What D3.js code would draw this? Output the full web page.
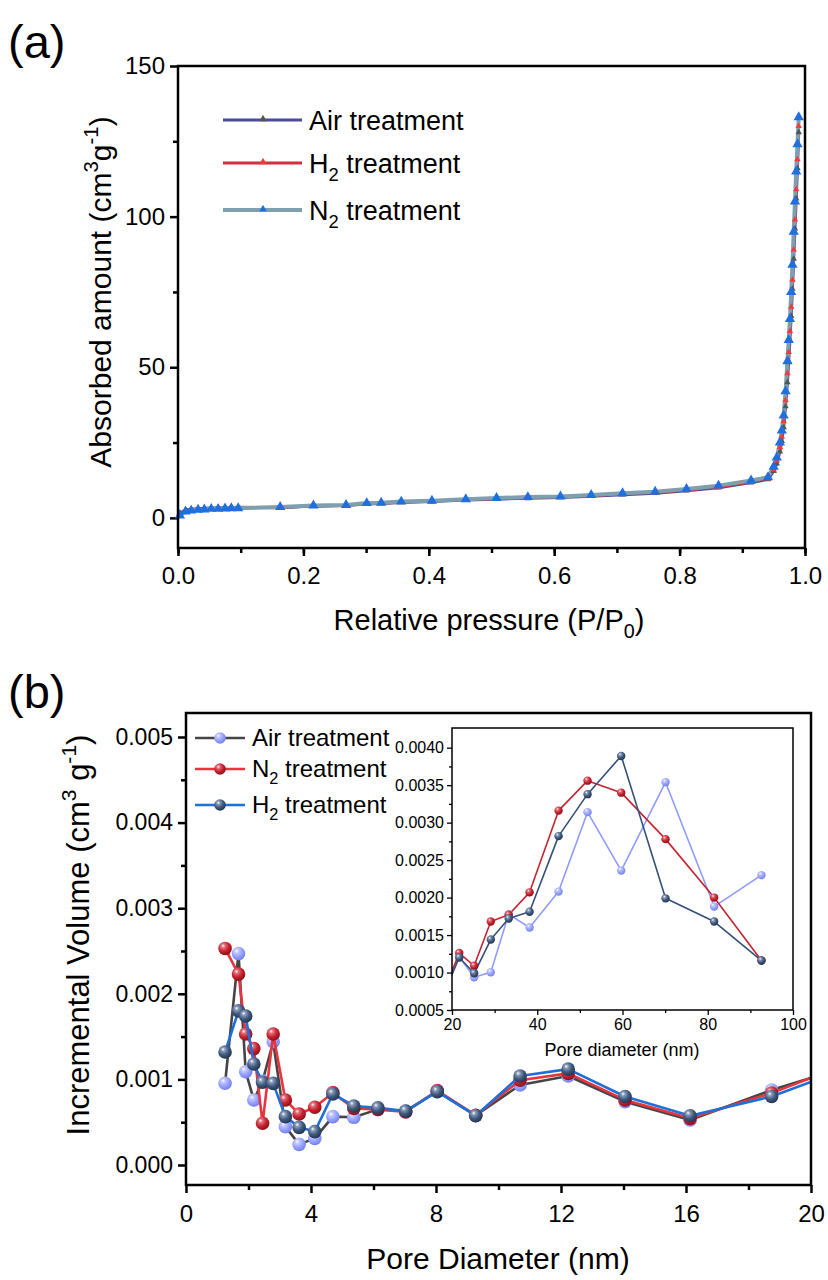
<!DOCTYPE html>
<html><head><meta charset="utf-8">
<script src="https://cdn.jsdelivr.net/npm/d3@7/dist/d3.min.js"></script>
<style>body{margin:0;background:#fff} svg{display:block} text{font-family:"Liberation Sans",Arial,sans-serif;fill:#000}</style>
</head><body>
<svg id="c" width="828" height="1280"></svg>
<script>
// ---------- Panel (a) data : N2 isotherms ----------
const pressure = [0.003,0.012,0.021,0.032,0.042,0.053,0.064,0.075,0.085,0.096,
  0.163,0.216,0.268,0.301,0.324,0.356,0.405,0.459,0.508,0.558,0.610,0.659,0.709,0.761,0.811,0.862,0.914,0.941,
  0.950,0.955,0.960,0.963,0.966,0.969,0.972,0.974,0.976,0.978,0.980,0.982,0.984,0.986,0.988,0.990];
const isoAir = [1.6,2.6,2.9,3.0,3.2,3.3,3.3,3.4,3.4,3.5,
  3.4,3.9,4.1,4.6,4.8,5.1,5.4,5.9,6.2,6.5,6.8,7.2,7.7,8.2,9.0,10.0,11.7,12.8,
  15.5,18,22,25.5,30,37,45,52,59,67,76,86,96,106,116,128];
const isoH2 = [1.4,2.5,2.8,3.0,3.1,3.2,3.3,3.3,3.4,3.4,
  3.4,3.9,4.1,4.7,4.8,5.2,5.5,6.0,6.3,6.6,6.9,7.3,7.9,8.4,9.2,10.2,11.9,13.0,
  16,19,23.5,27,32,39,48,55,62,70,79,89,99,109,119,130];
const isoN2 = [0.8,2.1,2.4,2.7,2.8,3.0,3.0,3.1,3.2,3.2,
  3.6,4.1,4.3,4.9,5.0,5.4,5.7,6.2,6.6,6.9,7.1,7.6,8.2,8.7,9.6,10.7,12.4,13.5,
  17,20,25,29,34,42,52,59,66,75,84,95,105,115,124,133];
const aXTicks = [0,0.2,0.4,0.6,0.8,1.0];
const aYTicks = [0,50,100,150];

// ---------- Panel (b) data : pore size distribution ----------
const diameter = [1.25,1.68,1.91,2.17,2.45,2.79,3.18,3.62,4.12,4.70,5.37,6.14,7.03,8.04,9.27,10.69,12.23,14.05,16.13,18.74,
  21.7,25.2,29.1,33.3,38.2,45.0,51.8,59.7,70.1,81.5,92.6];
const volAir = [0.000955,0.00247,0.00109,0.00076,0.00098,0.00144,0.000448,0.000241,0.000311,0.000565,0.000557,0.00065,0.00063,0.00086,0.00058,0.000935,0.00104,0.00074,0.000526,0.000876,
  0.00121,0.000936,0.001003,0.001777,0.0016,0.00208,0.00314,0.00236,0.00354,0.00188,0.0023];
const volN2 = [0.00253,0.00223,0.00153,0.00136,0.000487,0.00153,0.00076,0.000596,0.000674,0.000845,0.00066,0.00065,0.00062,0.00087,0.00058,0.00099,0.00107,0.00076,0.000545,0.00084,
  0.00126,0.00109,0.00168,0.00177,0.00207,0.00316,0.00356,0.0034,0.00278,0.002,0.00116];
const volH2 = [0.00132,0.0018,0.00174,0.00118,0.000966,0.000954,0.000565,0.00044,0.00039,0.00083,0.00069,0.000667,0.00063,0.000857,0.000576,0.00104,0.00112,0.0008,0.000576,0.0008,
  0.0012,0.00099,0.00144,0.00172,0.00181,0.00282,0.00338,0.00389,0.00199,0.00168,0.00116];
const bXTicks = [0,4,8,12,16,20];
const bYTicks = [0,0.001,0.002,0.003,0.004,0.005];
const insetXTicks = [20,40,60,80,100];
const insetYTicks = [0.0005,0.001,0.0015,0.002,0.0025,0.003,0.0035,0.004];

const svg = d3.select('#c');
const FONT = '"Liberation Sans",Arial,sans-serif';

function rich(t, parts, size){
  let cur = 0;
  parts.forEach(p=>{
    let target = p.sup ? -size*0.42 : p.sub ? size*0.28 : 0;
    const ts = t.append('tspan').text(p.t).attr('dy', target-cur);
    if (p.sup||p.sub) ts.attr('font-size', size*0.68);
    cur = target;
  });
}

function frame(g, x0,x1,y0,y1,w){
  g.append('rect').attr('x',x0).attr('y',y0).attr('width',x1-x0).attr('height',y1-y0)
    .attr('fill','none').attr('stroke','#000').attr('stroke-width',w);
}

// ================= PANEL (a) =================
const ax = d3.scaleLinear().domain([0,1]).range([178,805]);
const ay = d3.scaleLinear().domain([-10,150]).range([548,66]);
const ga = svg.append('g');
svg.append('text').attr('x',8).attr('y',58).attr('font-size',47).text('(a)');

const aXMinor = d3.range(0,1.01,0.1);
const aYMinor = [25,75,125];
ga.append('g').attr('transform','translate(0,548)')
  .call(d3.axisBottom(ax).tickValues(aXMinor).tickSize(5).tickFormat(''))
  .call(g=>g.select('.domain').remove()).selectAll('line').attr('stroke-width',2.5);
ga.append('g').attr('transform','translate(0,548)')
  .call(d3.axisBottom(ax).tickValues(aXTicks).tickSize(8).tickPadding(11).tickFormat(d3.format('.1f')))
  .call(g=>g.select('.domain').remove())
  .call(g=>g.selectAll('line').attr('stroke-width',2.5))
  .call(g=>g.selectAll('text').attr('font-size',24).attr('font-family',FONT).attr('fill','#000'));
ga.append('g').attr('transform','translate(178,0)')
  .call(d3.axisLeft(ay).tickValues(aYMinor).tickSize(5).tickFormat(''))
  .call(g=>g.select('.domain').remove()).selectAll('line').attr('stroke-width',2.5);
ga.append('g').attr('transform','translate(178,0)')
  .call(d3.axisLeft(ay).tickValues(aYTicks).tickSize(8).tickPadding(5))
  .call(g=>g.select('.domain').remove())
  .call(g=>g.selectAll('line').attr('stroke-width',2.5))
  .call(g=>g.selectAll('text').attr('font-size',24).attr('font-family',FONT).attr('fill','#000'));

const aSeries = [
  {vals: isoAir, line:'#4b4b9c', lw:3, mk:'#555555', ms:18},
  {vals: isoH2, line:'#d22f3b', lw:2.5, mk:'#f43a3a', ms:18},
  {vals: isoN2, line:'#7d9fb0', lw:4, mk:'#1f6fe0', ms:46}
];
const aLine = d3.line().x((d,i)=>ax(pressure[i])).y(d=>ay(d));
aSeries.forEach(s=>{
  ga.append('path').datum(s.vals).attr('d',aLine).attr('fill','none')
    .attr('stroke',s.line).attr('stroke-width',s.lw).attr('stroke-linejoin','round');
});
aSeries.forEach(s=>{
  ga.append('g').selectAll('path').data(s.vals).join('path')
    .attr('d', d3.symbol(d3.symbolTriangle, s.ms))
    .attr('transform',(d,i)=>`translate(${ax(pressure[i])},${ay(d)})`)
    .attr('fill', s.mk);
});
frame(ga,178,805,66,548,2.5);

// legend (a)
const aLeg = [
  {parts:[{t:'Air treatment'}], line:'#4b4b9c', lw:3, mk:'#555555'},
  {parts:[{t:'H'},{t:'2',sub:true},{t:' treatment'}], line:'#d22f3b', lw:3, mk:'#f43a3a'},
  {parts:[{t:'N'},{t:'2',sub:true},{t:' treatment'}], line:'#7d9fb0', lw:4, mk:'#1f6fe0'}
];
aLeg.forEach((l,i)=>{
  const y = [120,163,210][i];
  ga.append('line').attr('x1',223).attr('x2',302).attr('y1',y).attr('y2',y).attr('stroke',l.line).attr('stroke-width',l.lw);
  ga.append('path').attr('d',d3.symbol(d3.symbolTriangle,24)).attr('transform',`translate(263,${y-1})`).attr('fill',l.mk);
  const t = ga.append('text').attr('x',309).attr('y',y+10).attr('font-size',27);
  rich(t,l.parts,27);
});

// axis titles (a)
const at = svg.append('text').attr('transform','translate(111,292) rotate(-90)').attr('text-anchor','middle').attr('font-size',30);
rich(at,[{t:'Absorbed amount (cm'},{t:'3',sup:true},{t:'g'},{t:'-1',sup:true},{t:')'}],30);
const axt = svg.append('text').attr('x',489).attr('y',630).attr('text-anchor','middle').attr('font-size',29);
rich(axt,[{t:'Relative pressure (P/P'},{t:'0',sub:true},{t:')'}],29);

// ================= PANEL (b) =================
const bx = d3.scaleLinear().domain([0,20]).range([186,811]);
const by = d3.scaleLinear().domain([0,0.005]).range([1165,737]);
const gb = svg.append('g');
svg.append('text').attr('x',8).attr('y',708).attr('font-size',47).text('(b)');
const bTop = 713, bBot = 1185;

const defs = svg.append('defs');
function ballGrad(id, light, base, dark){
  const g = defs.append('radialGradient').attr('id',id).attr('cx','40%').attr('cy','35%').attr('r','65%').attr('fx','35%').attr('fy','30%');
  g.append('stop').attr('offset','0%').attr('stop-color','#ffffff');
  g.append('stop').attr('offset','22%').attr('stop-color',light);
  g.append('stop').attr('offset','60%').attr('stop-color',base);
  g.append('stop').attr('offset','100%').attr('stop-color',dark);
}
ballGrad('gAir','#c4caff','#98a2ff','#7482ee');
ballGrad('gN2','#e0707a','#c8222f','#8e1018');
ballGrad('gH2','#8a9ab8','#3e5a80','#243650');

defs.append('clipPath').attr('id','clipMain').append('rect').attr('x',186).attr('y',bTop).attr('width',625).attr('height',bBot-bTop);

const bXMinor = [2,6,10,14,18];
const bYMinor = [0.0005,0.0015,0.0025,0.0035,0.0045];
gb.append('g').attr('transform',`translate(0,${bBot})`)
  .call(d3.axisBottom(bx).tickValues(bXMinor).tickSize(5).tickFormat(''))
  .call(g=>g.select('.domain').remove()).selectAll('line').attr('stroke-width',2.5);
gb.append('g').attr('transform',`translate(0,${bBot})`)
  .call(d3.axisBottom(bx).tickValues(bXTicks).tickSize(8).tickPadding(12).tickFormat(d3.format('d')))
  .call(g=>g.select('.domain').remove())
  .call(g=>g.selectAll('line').attr('stroke-width',2.5))
  .call(g=>g.selectAll('text').attr('font-size',24).attr('font-family',FONT).attr('fill','#000'));
gb.append('g').attr('transform','translate(186,0)')
  .call(d3.axisLeft(by).tickValues(bYMinor).tickSize(5).tickFormat(''))
  .call(g=>g.select('.domain').remove()).selectAll('line').attr('stroke-width',2.5);
gb.append('g').attr('transform','translate(186,0)')
  .call(d3.axisLeft(by).tickValues(bYTicks).tickSize(8).tickPadding(5).tickFormat(d3.format('.3f')))
  .call(g=>g.select('.domain').remove())
  .call(g=>g.selectAll('line').attr('stroke-width',2.5))
  .call(g=>g.selectAll('text').attr('font-size',23).attr('font-family',FONT).attr('fill','#000'));

const bSeries = [
  {vals: volAir, line:'#454545', inLine:'#8f9bff', grad:'gAir'},
  {vals: volN2, line:'#e8343c', inLine:'#c8222f', grad:'gN2'},
  {vals: volH2, line:'#1f6fd8', inLine:'#34507a', grad:'gH2'}
];
const bLine = d3.line().x((d,i)=>bx(diameter[i])).y(d=>by(d));
const mainG = gb.append('g').attr('clip-path','url(#clipMain)');
bSeries.forEach(s=>{
  mainG.append('path').datum(s.vals).attr('d',bLine).attr('fill','none')
    .attr('stroke',s.line).attr('stroke-width',2.6).attr('stroke-linejoin','round');
  mainG.append('g').selectAll('circle').data(s.vals.map((v,i)=>[diameter[i],v]).filter(d=>d[0]<=20)).join('circle')
    .attr('cx',d=>bx(d[0])).attr('cy',d=>by(d[1])).attr('r',6.8)
    .attr('fill',`url(#${s.grad})`);
});
frame(gb,186,811,bTop,bBot,2.5);

// legend (b)
const bLeg = [
  {parts:[{t:'Air treatment'}], s:bSeries[0]},
  {parts:[{t:'N'},{t:'2',sub:true},{t:' treatment'}], s:bSeries[1]},
  {parts:[{t:'H'},{t:'2',sub:true},{t:' treatment'}], s:bSeries[2]}
];
bLeg.forEach((l,i)=>{
  const y = [738,769,805][i];
  gb.append('line').attr('x1',195).attr('x2',245).attr('y1',y).attr('y2',y).attr('stroke',l.s.line).attr('stroke-width',2.4);
  gb.append('circle').attr('cx',220).attr('cy',y).attr('r',5.8).attr('fill',`url(#${l.s.grad})`);
  const t = gb.append('text').attr('x',252).attr('y',y+8).attr('font-size',24);
  rich(t,l.parts,24);
});

// axis titles (b)
const bt = svg.append('text').attr('transform','translate(89,935) rotate(-90)').attr('text-anchor','middle').attr('font-size',31);
rich(bt,[{t:'Incremental Volume (cm'},{t:'3',sup:true},{t:' g'},{t:'-1',sup:true},{t:')'}],31);
svg.append('text').attr('x',498).attr('y',1269).attr('text-anchor','middle').attr('font-size',30).text('Pore Diameter (nm)');

// ================= INSET =================
const ix = d3.scaleLinear().domain([20,100]).range([452,793]);
const iy = d3.scaleLinear().domain([0.0005,0.004]).range([1010,747.7]);
const iTop = 728;
const gi = svg.append('g');
gi.append('rect').attr('x',452).attr('y',iTop).attr('width',341).attr('height',1010-iTop).attr('fill','#fff');
defs.append('clipPath').attr('id','clipIn').append('rect').attr('x',452).attr('y',iTop).attr('width',341).attr('height',1010-iTop);
gi.append('g').attr('transform','translate(0,1010)')
  .call(d3.axisBottom(ix).tickValues([30,50,70,90]).tickSize(3).tickFormat(''))
  .call(g=>g.select('.domain').remove()).selectAll('line').attr('stroke-width',1.3);
gi.append('g').attr('transform','translate(0,1010)')
  .call(d3.axisBottom(ix).tickValues(insetXTicks).tickSize(5).tickPadding(4).tickFormat(d3.format('d')))
  .call(g=>g.select('.domain').remove())
  .call(g=>g.selectAll('line').attr('stroke-width',1.3))
  .call(g=>g.selectAll('text').attr('font-size',16).attr('font-family',FONT).attr('fill','#000'));
gi.append('g').attr('transform','translate(452,0)')
  .call(d3.axisLeft(iy).tickValues(d3.range(0.00075,0.0042,0.0005)).tickSize(3).tickFormat(''))
  .call(g=>g.select('.domain').remove()).selectAll('line').attr('stroke-width',1.3);
gi.append('g').attr('transform','translate(452,0)')
  .call(d3.axisLeft(iy).tickValues(insetYTicks).tickSize(5).tickPadding(3).tickFormat(d3.format('.4f')))
  .call(g=>g.select('.domain').remove())
  .call(g=>g.selectAll('line').attr('stroke-width',1.3))
  .call(g=>g.selectAll('text').attr('font-size',16).attr('font-family',FONT).attr('fill','#000'));
const iLine = d3.line().x((d,i)=>ix(diameter[i])).y(d=>iy(d));
const inG = gi.append('g').attr('clip-path','url(#clipIn)');
bSeries.forEach(s=>{
  inG.append('path').datum(s.vals).attr('d',iLine).attr('fill','none')
    .attr('stroke',s.inLine).attr('stroke-width',1.6).attr('stroke-linejoin','round');
});
bSeries.forEach(s=>{
  inG.append('g').selectAll('circle').data(s.vals.map((v,i)=>[diameter[i],v]).filter(d=>d[0]>=20)).join('circle')
    .attr('cx',d=>ix(d[0])).attr('cy',d=>iy(d[1])).attr('r',4.2)
    .attr('fill',`url(#${s.grad})`);
});
frame(gi,452,793,iTop,1010,1.5);
svg.append('text').attr('x',622).attr('y',1056).attr('text-anchor','middle').attr('font-size',18).text('Pore diameter (nm)');
</script>
</body></html>
